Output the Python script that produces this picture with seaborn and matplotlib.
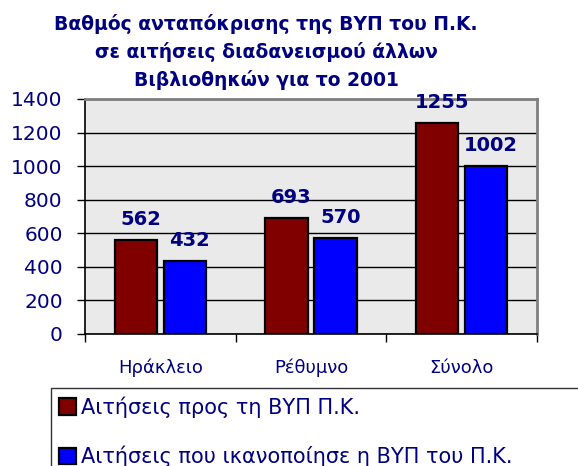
import pandas as pd
import matplotlib
matplotlib.use("Agg")
import matplotlib.pyplot as plt
import seaborn as sns

# Data
CATEGORIES = ["Ηράκλειο", "Ρέθυμνο", "Σύνολο"]
SERIES = ["Αιτήσεις προς τη ΒΥΠ Π.Κ.", "Αιτήσεις που ικανοποίησε η ΒΥΠ του Π.Κ."]
REQUESTS = [562, 693, 1255]
FULFILLED = [432, 570, 1002]
Y_TICKS = [0, 200, 400, 600, 800, 1000, 1200, 1400]
TITLE = "Βαθμός ανταπόκρισης της ΒΥΠ του Π.Κ.\nσε αιτήσεις διαδανεισμού άλλων\nΒιβλιοθηκών για το 2001"

NAVY = "#000080"
COLORS = ["#800000", "#0000FF"]

sns.set_theme(style="white")
plt.rcParams["font.family"] = ["DejaVu Sans"]

df = pd.DataFrame({
    "category": CATEGORIES * 2,
    "series": [SERIES[0]] * 3 + [SERIES[1]] * 3,
    "value": REQUESTS + FULFILLED,
})

fig = plt.figure(figsize=(5.78, 4.66), dpi=100)
ax = fig.add_axes([0.147, 0.2833, 0.782, 0.5043])
ax.set_facecolor("#EAEAEA")

sns.barplot(data=df, x="category", y="value", hue="series", palette=COLORS,
            saturation=1, width=0.65, gap=0.14, edgecolor="black", linewidth=1.6,
            ax=ax, zorder=3)

# value labels, nudged slightly to the right like the original
for cont in ax.containers:
    labels = ax.bar_label(cont, padding=8, color=NAVY, fontsize=14, fontweight="bold")
    for lab in labels:
        x0, y0 = lab.get_position()
        lab.set_position((x0 + 3.5, y0))

ax.set_ylim(0, 1400)
ax.set_xlim(-0.5, 2.5)
ax.set_yticks(Y_TICKS)
ax.yaxis.grid(True, color="black", linewidth=1, zorder=0)
ax.set_axisbelow(True)
ax.set_xlabel("")
ax.set_ylabel("")

ax.tick_params(axis="y", which="major", left=True, length=6, width=1,
               color="black", pad=10, labelsize=14.5, labelcolor=NAVY)
ax.tick_params(axis="x", which="major", bottom=False, length=0, pad=18,
               labelsize=13, labelcolor=NAVY)
ax.set_xticks([0.5, 1.5, 2.5, -0.5], minor=True)
ax.tick_params(axis="x", which="minor", bottom=True, length=6, width=1, color="black")

for side in ["left", "bottom"]:
    ax.spines[side].set_color("black")
    ax.spines[side].set_linewidth(1.2)
for side in ["top", "right"]:
    ax.spines[side].set_color("#808080")
    ax.spines[side].set_linewidth(2)

handles, labels = ax.get_legend_handles_labels()
ax.get_legend().remove()
leg = fig.legend(handles, labels, loc="upper left",
                 bbox_to_anchor=(51 / 578, 1 - 388 / 466 - 0.3, 1.0, 0.3),
                 mode="expand", borderaxespad=0, fontsize=15,
                 handlelength=0.82, handleheight=0.82, handletextpad=0.2,
                 labelspacing=1.35, borderpad=0.4, fancybox=False,
                 frameon=True, edgecolor="black")
leg.get_frame().set_linewidth(1)
for t in leg.get_texts():
    t.set_color(NAVY)

fig.text(266 / 578, 1 - 14 / 466, TITLE, ha="center", va="top", fontsize=13.5,
         fontweight="bold", color=NAVY, linespacing=1.5)

fig.savefig("out.png", dpi=100)
